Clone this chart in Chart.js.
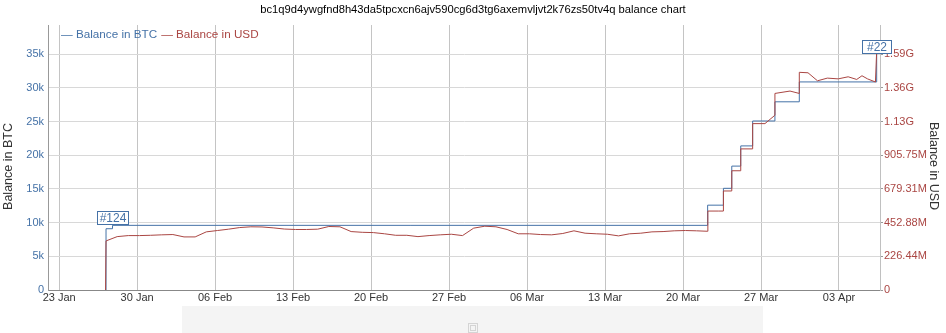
<!DOCTYPE html>
<html><head><meta charset="utf-8">
<script src="https://cdn.jsdelivr.net/npm/chart.js"></script>
<style>html,body{margin:0;padding:0;background:#fff;}#wrap{width:946px;height:333px;position:relative;}</style>
</head><body><div id="wrap"><canvas id="c" width="946" height="333"></canvas></div>
<script>
const chartTitle = 'bc1q9d4ywgfnd8h43da5tpcxcn6ajv590cg6d3tg6axemvljvt2k76zs50tv4q balance chart';
const btcLabel = 'Balance in BTC';
const usdLabel = 'Balance in USD';

const btcTimes = ['2022-01-27 04:00','2022-01-27 05:00','2022-01-27 19:00','2022-03-22 05:00','2022-03-23 15:00','2022-03-24 09:00','2022-03-25 04:20','2022-03-26 06:00','2022-03-28 06:00','2022-03-30 10:30','2022-04-06 09:10'];
const btcValues = [0, 9100, 9600, 12600, 15100, 18400, 21400, 25100, 27950, 30900, 35100];

const usdTimes = [
'2022-01-27 04:00','2022-01-27 05:00','2022-01-28 05:00','2022-01-29 05:00','2022-01-30 05:00','2022-01-31 05:00',
'2022-02-01 05:00','2022-02-02 05:00','2022-02-03 05:00','2022-02-04 05:00','2022-02-05 05:00','2022-02-06 05:00','2022-02-07 05:00',
'2022-02-08 05:00','2022-02-09 05:00','2022-02-10 05:00','2022-02-11 05:00','2022-02-12 05:00','2022-02-13 05:00','2022-02-14 05:00',
'2022-02-15 05:00','2022-02-16 05:00','2022-02-17 05:00','2022-02-18 05:00','2022-02-19 05:00','2022-02-20 05:00','2022-02-21 05:00',
'2022-02-22 05:00','2022-02-23 05:00','2022-02-24 05:00','2022-02-25 05:00','2022-02-26 05:00','2022-02-27 05:00','2022-02-28 05:00',
'2022-03-01 05:00','2022-03-02 05:00','2022-03-03 05:00','2022-03-04 05:00','2022-03-05 05:00','2022-03-06 05:00','2022-03-07 05:00',
'2022-03-08 05:00','2022-03-09 05:00','2022-03-10 05:00','2022-03-11 05:00','2022-03-12 05:00','2022-03-13 05:00','2022-03-14 05:00',
'2022-03-15 05:00','2022-03-16 05:00','2022-03-17 05:00','2022-03-18 05:00','2022-03-19 05:00','2022-03-20 05:00','2022-03-21 05:00',
'2022-03-22 05:00','2022-03-22 05:30','2022-03-23 05:00','2022-03-23 14:50','2022-03-23 15:00','2022-03-24 08:50','2022-03-24 09:00',
'2022-03-25 04:10','2022-03-25 04:20','2022-03-26 05:50','2022-03-26 06:00','2022-03-27 08:30','2022-03-28 05:50','2022-03-28 06:00',
'2022-03-29 14:30','2022-03-30 10:20','2022-03-30 10:30','2022-03-31 05:15','2022-04-01 01:40','2022-04-01 22:50','2022-04-02 22:20',
'2022-04-03 19:45','2022-04-04 14:10','2022-04-05 01:30','2022-04-05 13:25','2022-04-06 06:30','2022-04-06 09:10'];
// USD balance, millions
const usdValuesM = [
0,330,359,366,366,368,
371,373,357,357,391,400,409,
420,425,424,418,410,407,407,
409,427,425,393,388,386,378,
368,368,359,366,371,375,366,
416,429,425,407,378,378,373,
371,380,398,382,378,375,364,
378,382,391,393,398,400,398,
395,531,531,531,666,666,802,
802,949,949,1119,1119,1175,1322,
1338,1322,1464,1461,1407,1425,1420,
1434,1416,1441,1420,1399,1607];

const xTickDates = ['2022-01-23','2022-01-30','2022-02-06','2022-02-13','2022-02-20','2022-02-27','2022-03-06','2022-03-13','2022-03-20','2022-03-27','2022-04-03'];
const xTickLabels = ['23 Jan','30 Jan','06 Feb','13 Feb','20 Feb','27 Feb','06 Mar','13 Mar','20 Mar','27 Mar','03 Apr'];
const xRange = ['2022-01-22 00:00','2022-04-06 16:20'];
const btcTickValues = [0,5000,10000,15000,20000,25000,30000,35000];
const btcTickLabels = ['0','5k','10k','15k','20k','25k','30k','35k'];
const usdTickValuesM = [0,226.4375,452.875,679.3125,905.75,1132.1875,1358.625,1585.0625];
const usdTickLabels = ['0','226.44M','452.88M','679.31M','905.75M','1.13G','1.36G','1.59G'];
const btcMax = 39350;
const usdMaxM = 1782;
const flagTimes = ['2022-01-27 19:00','2022-04-06 09:10'];
const flagTexts = ['#124','#22'];

const FONT = "'Liberation Sans', Arial, sans-serif";
const BLUE = '#4572A7', RED = '#AA4643';

function toMs(s){
  const parts = s.split(' ');
  const [Y,M,D] = parts[0].split('-').map(Number);
  const [h,m] = (parts[1] || '00:00').split(':').map(Number);
  return Date.UTC(Y, M-1, D, h, m);
}

const deco = {
  id: 'deco',
  beforeDraw(chart){
    const ctx = chart.ctx;
    ctx.save();
    ctx.fillStyle = '#fff';
    ctx.fillRect(0,0,chart.width,chart.height);
    ctx.fillStyle = '#f4f4f4';
    ctx.fillRect(182,306,581,27);
    ctx.strokeStyle = '#d4d4d4';
    ctx.lineWidth = 1;
    ctx.strokeRect(468.5,323.5,9,9);
    ctx.strokeRect(470.5,325.5,5,5);
    ctx.restore();
  },
  afterDraw(chart){
    const ctx = chart.ctx;
    const xs = chart.scales.x, ys = chart.scales.y;
    ctx.save();
    // legend
    ctx.font = '11.7px ' + FONT;
    ctx.textBaseline = 'middle';
    ctx.textAlign = 'left';
    let lx = 61;
    chart.data.datasets.forEach(ds => {
      const t = '\u2014 ' + ds.label;
      ctx.fillStyle = ds.borderColor;
      ctx.fillText(t, lx, 35);
      lx += ctx.measureText(t).width + 4;
    });
    // axis titles
    ctx.font = '12.5px ' + FONT;
    ctx.fillStyle = '#333';
    ctx.textAlign = 'center';
    ctx.save(); ctx.translate(9, 166.5); ctx.rotate(-Math.PI/2); ctx.fillText(btcLabel, 0, 0); ctx.restore();
    ctx.save(); ctx.translate(933, 166); ctx.rotate(Math.PI/2); ctx.fillText(usdLabel, 0, 0); ctx.restore();
    // flags
    ctx.font = '12px ' + FONT;
    flagTimes.forEach((ft, i) => {
      const t = toMs(ft);
      let v = 0;
      btcTimes.forEach((bt, j) => { if (toMs(bt) <= t) v = btcValues[j]; });
      const px = xs.getPixelForValue(t), py = ys.getPixelForValue(v);
      const w = Math.max(Math.round(ctx.measureText(flagTexts[i]).width) + 4, 29), h = 13;
      const left = Math.round(px - w/2) + 0.5, top = Math.round(py - 1 - h) + 0.5;
      ctx.fillStyle = '#fff';
      ctx.fillRect(left, top, w, h);
      ctx.strokeStyle = BLUE;
      ctx.lineWidth = 1;
      ctx.strokeRect(left, top, w, h);
      ctx.fillStyle = BLUE;
      ctx.textAlign = 'center';
      ctx.textBaseline = 'middle';
      ctx.fillText(flagTexts[i], left + w/2, top + h/2 + 0.5);
    });
    ctx.restore();
  }
};

new Chart(document.getElementById('c'), {
  type: 'line',
  data: {
    datasets: [
      { label: btcLabel, data: btcTimes.map((t,i)=>({x: toMs(t), y: btcValues[i]})), yAxisID: 'y',
        borderColor: BLUE, backgroundColor: BLUE, borderWidth: 1, stepped: 'before', pointRadius: 0, fill: false, order: 1 },
      { label: usdLabel, data: usdTimes.map((t,i)=>({x: toMs(t), y: usdValuesM[i]})), yAxisID: 'y2',
        borderColor: RED, backgroundColor: RED, borderWidth: 1, tension: 0, pointRadius: 0, fill: false, order: 0 }
    ]
  },
  options: {
    responsive: false, animation: false, events: [],
    layout: { padding: 0 },
    plugins: {
      legend: { display: false },
      tooltip: { enabled: false },
      title: { display: true, text: chartTitle, color: '#000', font: { family: FONT, size: 11.2, weight: 'normal' }, padding: { top: 3.3, bottom: 8.3 } }
    },
    scales: {
      x: {
        type: 'linear', min: toMs(xRange[0]), max: toMs(xRange[1]),
        afterBuildTicks: s => { s.ticks = xTickDates.map(d => ({ value: toMs(d) })); },
        ticks: { autoSkip: false, maxRotation: 0, color: '#333', font: { family: FONT, size: 11 }, padding: 1,
                 callback: (v, i) => xTickLabels[i] },
        grid: { color: '#c4c4c4', drawTicks: false },
        border: { color: '#888' },
        afterFit: s => { s.height = 43; }
      },
      y: {
        position: 'left', min: 0, max: btcMax,
        afterBuildTicks: s => { s.ticks = btcTickValues.map(v => ({ value: v })); },
        ticks: { color: BLUE, font: { family: FONT, size: 11 }, padding: 4, callback: (v, i) => btcTickLabels[i] },
        grid: { color: '#d8d8d8', drawTicks: false },
        border: { color: '#999' },
        afterFit: s => { s.width = 48; }
      },
      y2: {
        position: 'right', min: 0, max: usdMaxM,
        afterBuildTicks: s => { s.ticks = usdTickValuesM.map(v => ({ value: v })); },
        ticks: { color: RED, font: { family: FONT, size: 11 }, padding: 1, callback: (v, i) => usdTickLabels[i] },
        grid: { drawOnChartArea: false, drawTicks: true, tickLength: 3, color: '#999' },
        border: { color: '#c0c0c0' },
        afterFit: s => { s.width = 66; }
      }
    }
  },
  plugins: [deco]
});
</script></body></html>
